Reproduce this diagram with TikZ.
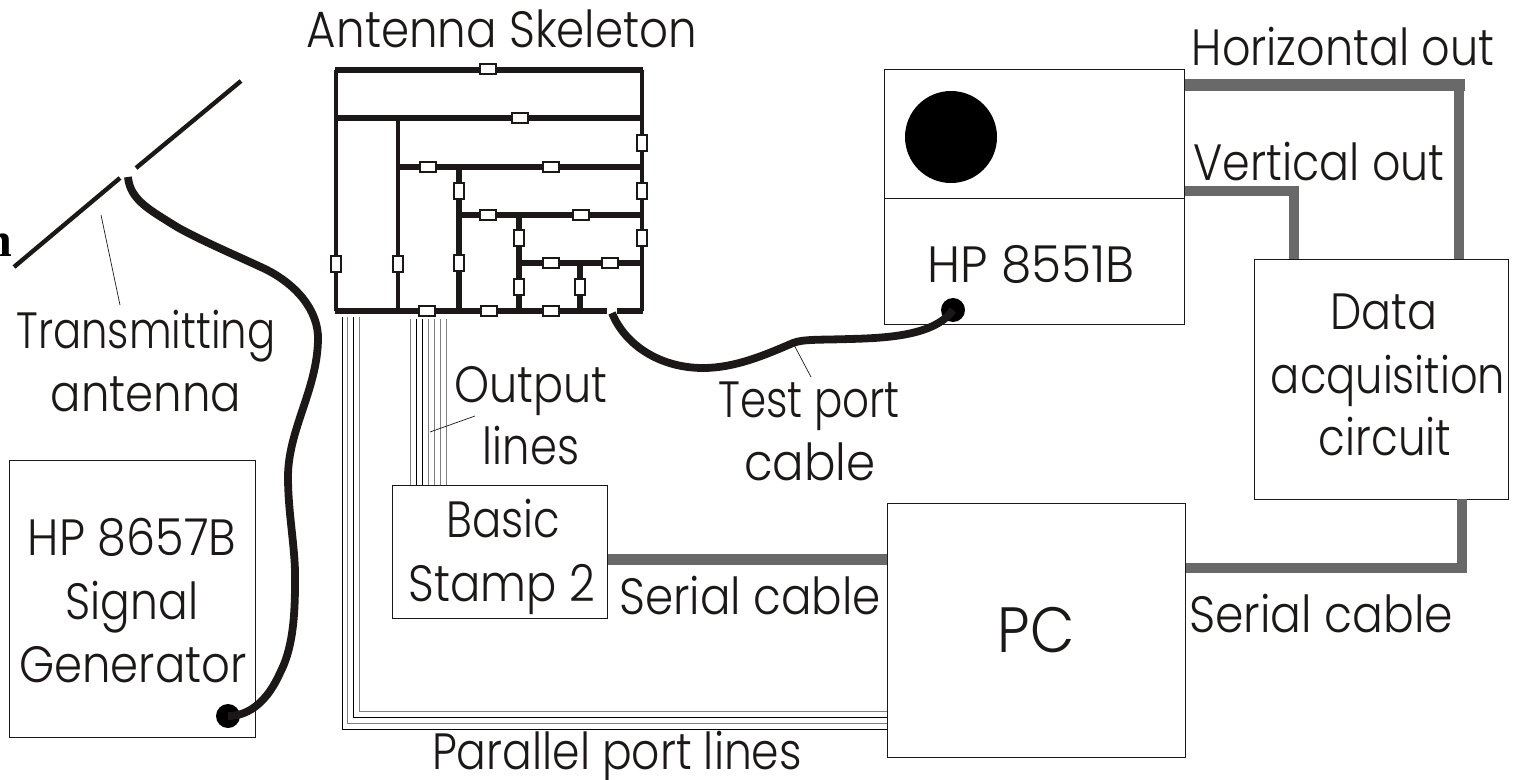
\documentclass[tikz,border=0pt]{standalone}
\usepackage{fontspec}
\usepackage{graphicx}
\setmainfont{Poppins}[UprightFont=* Light]
\newfontfamily\serifn{Liberation Serif}
\usepackage{tikz}
\definecolor{cablegray}{RGB}{105,105,105}
\definecolor{inkblack}{RGB}{28,24,24}
\newcommand{\sx}[2]{\scalebox{#1}[1]{#2}}
\begin{document}
\begin{tikzpicture}[
  x=0.5pt, y=-0.5pt,
  box/.style={draw=inkblack, line width=0.4pt, inner sep=0pt, anchor=north west},
  lab/.style={font=\fontsize{25.5}{27}\selectfont, text=inkblack, inner sep=0pt, anchor=base},
  wire/.style={draw=inkblack, line width=2.6pt},
  vwire/.style={draw=inkblack, line width=2.1pt},
  res/.style={draw=inkblack, fill=white, line width=0.7pt, inner sep=0pt, minimum width=8pt, minimum height=5pt},
  vres/.style={res, minimum width=5pt, minimum height=8pt},
  cable/.style={draw=inkblack, line width=3.9pt},
  graycable/.style={draw=cablegray, line width=5pt},
  thin line/.style={draw=inkblack, line width=0.35pt},
  plot dot/.style={circle, fill=black, inner sep=0pt, minimum size=12pt}
]
\useasboundingbox (0,0) rectangle (1518,780);

% Instruments
\node[box, minimum width=150pt, minimum height=127.5pt] (analyzer) at (884,69) {};
\draw[thin line] (analyzer.west |- 0,198) -- (analyzer.east |- 0,198);
\node[circle, fill=black, inner sep=0pt, minimum size=46pt] (screen) at (951,137) {};
\node[plot dot] (testport) at (953,310) {};
\node[box, minimum width=127pt, minimum height=120pt] (daq) at (1254,259) {};
\node[box, minimum width=149pt, minimum height=127pt] (pc) at (887,503) {};
\node[box, minimum width=107.5pt, minimum height=66.5pt] (stamp) at (392,485) {};
\node[box, minimum width=123pt, minimum height=138.5pt] (siggen) at (9,460) {};
\node[plot dot] (rfout) at (228,716) {};

% Antenna skeleton
\draw[wire] (335,70) -- (643,70);
\draw[wire] (336,118) -- (642,118);
\draw[wire] (398,167) -- (642,167);
\draw[wire] (459,215) -- (642,215);
\draw[wire] (519,263) -- (642,263);
\draw[wire] (335,311) -- (607,311);
\draw[wire] (617,311) -- (643,311);
\draw[vwire] (336,70) -- (336,311);
\draw[vwire] (642,70) -- (642,311);
\draw[vwire] (398,118) -- (398,311);
\draw[wire] (459,167) -- (459,311);
\draw[wire] (519,215) -- (519,311);
\draw[wire] (580,263) -- (580,311);
\foreach \px/\py in {488/69, 520/118, 428/167, 551/167, 488/215, 581/215, 551/263, 610/263, 427/311, 489/311, 551/311}
  \node[res] (h\px\py) at (\px,\py) {};
\foreach \px/\py in {642/143, 642/191, 642/238, 336/264, 398/264, 459/191, 459/263, 519/238, 519/287, 580/287}
  \node[vres] (v\px\py) at (\px,\py) {};

% Transmitting antenna
\coordinate (armA) at (14,267);
\coordinate (armB) at (120,178);
\coordinate (armC) at (136,168);
\coordinate (armD) at (241,81);
\draw[vwire, line width=2.2pt] (armA) -- (armB);
\draw[vwire, line width=2.2pt] (armC) -- (armD);

% Cables
\coordinate (feed) at (128,177);
\draw[cable] (feed) .. controls (130,200) and (150,210) .. (177,227)
  .. controls (200,240) and (235,255) .. (263,268)
  .. controls (295,283) and (319,310) .. (318,340)
  .. controls (317,390) and (288,430) .. (288,477)
  .. controls (288,515) and (296,550) .. (295,583)
  .. controls (295,620) and (292,650) .. (280,673)
  .. controls (268,700) and (250,716) .. (rfout.center);
\coordinate (skelport) at (612,313);
\draw[cable] (skelport) .. controls (625,345) and (660,368) .. (703,368)
  .. controls (735,368) and (765,355) .. (793,343)
  .. controls (803,339) and (820,340) .. (850,339)
  .. controls (890,338) and (935,335) .. (testport.center);
\draw[graycable] (1459,85) -- (1459,259);
\draw[graycable, line width=6pt] (analyzer.east |- 0,85) -- (1465,85);
\draw[graycable] (1294,191) -- (1294,259);
\draw[graycable] (analyzer.east |- 0,191) -- (1299,191);
\draw[graycable, line width=5.5pt] (stamp.east |- 0,559) -- (pc.west |- 0,559);
\draw[graycable] (1462,499) -- (1462,570);
\draw[graycable] (1467,568) -- (pc.east |- 0,568);

% Output lines
\foreach \px/\col in {410/gray, 416/black, 422/black, 428/gray, 434/gray, 440/gray, 446/gray}
  \draw[\col, line width=0.4pt] (\px,319) -- (\px,485);

% Parallel port lines
\draw[gray, line width=0.4pt] (359,317) -- (359,711) -- (pc.west |- 0,711);
\draw[black, line width=0.4pt] (353,317) -- (353,717) -- (pc.west |- 0,717);
\draw[gray, line width=0.4pt] (347,317) -- (347,723) -- (pc.west |- 0,723);
\draw[black, line width=0.4pt] (342,317) -- (342,729) -- (pc.west |- 0,729);

% Leaders
\draw[thin line] (101,215) -- (120,305);
\draw[thin line] (475,416) -- (430,432);
\draw[thin line] (793,343) -- (811,377);

% Labels
\node[lab] (skeleton) at (502,48) {\sx{.886}{Antenna Skeleton}};
\node[lab] (tx1) at (146,348) {\sx{.819}{Transmitting}};
\node[lab] (tx2) at (146,411) {\sx{.883}{antenna}};
\node[lab] (out1) at (531,402) {\sx{.873}{Output}};
\node[lab] (out2) at (531,464) {\sx{.848}{lines}};
\node[lab] (test1) at (809,417) {\sx{.824}{Test port}};
\node[lab] (test2) at (810,480) {\sx{.916}{cable}};
\node[lab] (hpa) at (1031,283) {\sx{.953}{HP 8551B}};
\node[lab] (horiz) at (1343,66) {\sx{.873}{Horizontal out}};
\node[lab] (vert) at (1319,181) {\sx{.87}{Vertical out}};
\node[lab] (daq1) at (1384,329) {\sx{.87}{Data}};
\node[lab] (daq2) at (1388,393) {\sx{.847}{acquisition}};
\node[lab] (daq3) at (1385,455) {\sx{.856}{circuit}};
\node[lab] (basic) at (503,537) {\sx{.85}{Basic}};
\node[lab] (stamp2) at (502,601) {\sx{.88}{Stamp 2}};
\node[lab] (serialA) at (750,614) {\sx{.888}{Serial cable}};
\node[lab] (serialB) at (1321,632) {\sx{.895}{Serial cable}};
\node[lab, font=\fontsize{32}{34}\selectfont] (pclab) at (1036,652) {\sx{.9}{PC}};
\node[lab] (sg1) at (132,555) {\sx{.905}{HP 8657B}};
\node[lab] (sg2) at (132,619) {\sx{.862}{Signal}};
\node[lab] (sg3) at (133,682) {\sx{.882}{Generator}};
\node[lab] (par) at (617,769) {\sx{.864}{Parallel port lines}};
\node[font=\serifn\bfseries\fontsize{24}{26}\selectfont, inner sep=0pt, anchor=base east] (cutn) at (13,257) {n};
\end{tikzpicture}
\end{document}
